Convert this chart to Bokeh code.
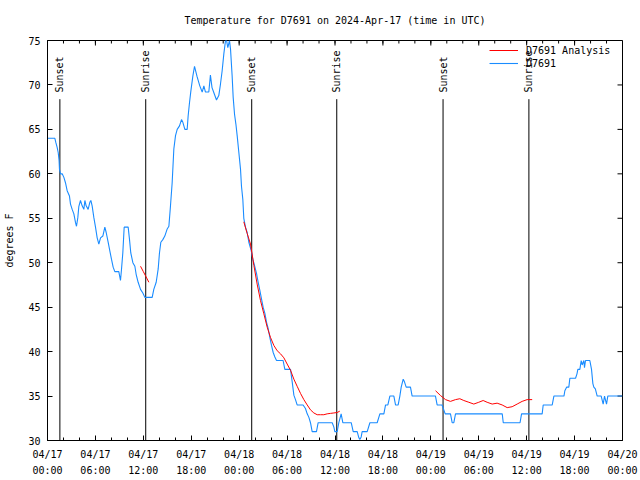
from math import pi, nan
from bokeh.plotting import figure
from bokeh.models import Range1d, FixedTicker, Legend, LegendItem
from bokeh.embed import file_html
from bokeh.resources import INLINE
from bokeh.core.properties import value

FONT = "DejaVu Sans Mono"

title_text = "Temperature for D7691 on 2024-Apr-17 (time in UTC)"
y_label = "degrees F"
x_tick_hours = [0, 6, 12, 18, 24, 30, 36, 42, 48, 54, 60, 66, 72]
x_tick_labels = ["04/17\n00:00", "04/17\n06:00", "04/17\n12:00", "04/17\n18:00",
                 "04/18\n00:00", "04/18\n06:00", "04/18\n12:00", "04/18\n18:00",
                 "04/19\n00:00", "04/19\n06:00", "04/19\n12:00", "04/19\n18:00",
                 "04/20\n00:00"]
x_minor_hours = list(range(0, 73, 2))
y_ticks = [30, 35, 40, 45, 50, 55, 60, 65, 70, 75]

# observed temperature, hours since 04/17 00:00 UTC
obs_hours = [0.0, 0.92, 1.05, 1.2, 1.34, 1.45, 1.5, 1.63, 1.84, 2.05,
             2.25, 2.46, 2.75, 2.88, 3.09, 3.3, 3.51, 3.63, 3.8, 3.92,
             4.13, 4.34, 4.55, 4.68, 4.84, 5.09, 5.3, 5.43, 5.59, 5.8,
             6.01, 6.22, 6.43, 6.64, 6.93, 7.18, 7.35, 7.6, 7.81, 8.01,
             8.22, 8.43, 8.93, 9.14, 9.27, 9.43, 9.6, 10.1, 10.27, 10.43,
             10.69, 10.94, 11.1, 11.35, 11.65, 11.94, 12.19, 13.11, 13.31, 13.61,
             13.86, 14.02, 14.19, 14.44, 14.69, 14.99, 15.2, 15.4, 15.61, 15.82,
             16.03, 16.24, 16.53, 16.78, 16.95, 17.2, 17.49, 17.61, 17.78, 17.95,
             18.2, 18.41, 18.74, 19.07, 19.37, 19.58, 19.78, 20.2, 20.4, 20.6,
             20.8, 21.16, 21.45, 21.66, 21.87, 22.08, 22.29, 22.42, 22.58, 22.79,
             22.92, 23.12, 23.25, 23.42, 23.59, 23.75, 23.96, 24.17, 24.29, 24.46,
             24.58, 24.79, 25.0, 25.21, 25.5, 25.71, 25.92, 26.17, 26.38, 26.59,
             26.8, 27.0, 27.22, 27.43, 27.63, 27.84, 28.05, 28.26, 28.47, 28.68,
             29.5, 29.72, 30.43, 30.64, 30.85, 31.05, 31.26, 32.0, 32.3, 32.52,
             32.73, 32.93, 33.14, 33.68, 33.89, 35.65, 35.86, 35.98, 36.27, 36.48,
             36.77, 36.98, 38.03, 38.28, 38.78, 38.99, 39.11, 39.28, 39.4, 40.03,
             40.37, 41.28, 41.62, 42.12, 42.33, 42.62, 42.87, 43.37, 43.58, 43.91,
             44.12, 44.29, 44.54, 44.7, 44.91, 45.45, 45.66, 48.58, 48.79, 49.4,
             49.8, 50.46, 50.67, 50.88, 51.09, 56.94, 57.07, 59.17, 59.36, 61.94,
             62.07, 63.2, 63.41, 64.67, 64.78, 65.0, 65.28, 65.41, 66.12, 66.3,
             66.41, 66.66, 66.83, 66.95, 67.16, 67.24, 67.37, 67.91, 68.12, 68.29,
             68.41, 68.6, 68.83, 69.33, 69.58, 69.75, 70.0, 70.16, 72.0]
obs_temp = [64.0, 64.0, 63.5, 63.0, 62.4, 61.5, 60.5, 60.0, 60.0, 59.6,
            59.0, 58.1, 57.5, 56.6, 56.0, 55.5, 54.5, 54.1, 55.1, 56.3,
            57.0, 56.4, 56.0, 57.0, 56.4, 56.0, 56.8, 57.0, 56.4, 55.1,
            54.0, 52.8, 52.1, 52.8, 53.0, 54.0, 53.4, 52.3, 51.3, 50.4,
            49.5, 49.0, 49.0, 48.0, 49.3, 51.1, 54.0, 54.0, 52.6, 51.1,
            50.0, 49.6, 48.7, 47.8, 47.0, 46.6, 46.1, 46.1, 47.0, 47.8,
            49.3, 51.1, 52.3, 52.6, 53.0, 53.8, 54.1, 56.4, 59.0, 62.8,
            64.3, 65.0, 65.4, 66.1, 65.8, 65.0, 65.0, 66.5, 68.0, 69.3,
            71.0, 72.1, 70.9, 69.9, 69.2, 69.9, 69.2, 69.2, 71.1, 69.7,
            69.2, 68.3, 68.8, 70.1, 71.6, 73.5, 75.0, 75.0, 74.2, 75.0,
            74.0, 71.0, 68.6, 66.7, 65.6, 64.3, 62.4, 60.5, 58.6, 57.1,
            55.0, 54.0, 53.4, 52.3, 51.4, 50.4, 49.7, 48.8, 47.8, 46.9,
            45.9, 45.0, 44.3, 43.3, 42.6, 41.6, 40.7, 39.9, 39.4, 39.0,
            39.0, 38.0, 38.0, 36.6, 35.1, 34.6, 34.0, 34.0, 33.6, 33.0,
            32.6, 32.0, 31.0, 31.0, 32.0, 32.0, 31.5, 31.0, 31.0, 32.0,
            33.0, 32.0, 32.0, 31.0, 31.0, 30.3, 30.1, 30.4, 31.0, 31.0,
            32.0, 32.0, 33.0, 33.0, 34.0, 34.0, 35.0, 35.0, 34.0, 34.0,
            35.0, 36.0, 36.9, 36.6, 36.0, 36.0, 35.0, 35.0, 34.0, 34.0,
            33.0, 33.0, 32.0, 32.0, 33.0, 33.0, 32.0, 32.0, 33.0, 33.0,
            34.0, 34.0, 35.0, 35.0, 35.6, 36.0, 36.0, 37.0, 37.0, 37.5,
            38.0, 38.0, 39.0, 38.5, 39.0, 38.2, 39.0, 39.0, 38.0, 36.4,
            36.0, 35.8, 35.0, 35.0, 34.1, 35.0, 34.1, 35.0, 35.0]

# analysis curve (three pieces, separated by gaps)
ana_hours = [11.65, 12.0, 12.35, 12.69, nan,
             24.58, 25.0, 25.42, 25.84, 26.25, 26.67, 27.09, 27.51, 27.92, 28.34,
             28.76, 29.18, 29.6, 30.01, 30.43, 30.85, 31.26, 31.68, 32.1, 32.52,
             32.93, 33.35, 33.77, 34.19, 34.6, 35.02, 35.44, 35.86, 36.27, 36.6, nan,
             48.59, 49.21, 49.84, 50.46, 51.09, 51.63, 52.13, 52.76, 53.38, 54.0,
             54.55, 55.05, 55.68, 56.3, 56.93, 57.56, 58.18, 58.81, 59.43, 60.06, 60.69]
ana_temp = [49.6, 49.0, 48.4, 47.8, nan,
            54.6, 53.3, 52.1, 49.7, 47.6, 45.75, 44.25, 42.75, 41.6, 40.7,
            40.1, 39.75, 39.3, 38.6, 37.9, 36.9, 36.1, 35.3, 34.6, 34.0,
            33.45, 33.1, 32.9, 32.9, 32.9, 33.0, 33.05, 33.1, 33.15, 33.3, nan,
            35.6, 35.06, 34.6, 34.4, 34.6, 34.7, 34.5, 34.3, 34.1, 34.3,
            34.5, 34.3, 34.1, 34.2, 34.0, 33.7, 33.8, 34.1, 34.4, 34.6, 34.6]

sun_hours = [1.55, 12.3, 25.57, 36.22, 49.53, 60.28]
sun_labels = ["Sunset", "Sunrise", "Sunset", "Sunrise", "Sunset", "Sunrise"]
sun_line_bottom = 30
sun_line_top = 68.4
sun_label_base = 69.15

X_MIN, X_MAX = 0, 72
Y_MIN, Y_MAX = 30, 75

BLUE = "#1a8cff"
RED = "#ff0000"

p = figure(frame_width=575, frame_height=400,
           x_range=Range1d(X_MIN, X_MAX), y_range=Range1d(Y_MIN, Y_MAX),
           output_backend="svg", toolbar_location=None,
           min_border_left=47, min_border_right=18,
           min_border_top=40, min_border_bottom=40,
           background_fill_color="white", border_fill_color="white",
           outline_line_color="black", outline_line_width=1)
p.grid.visible = False

p.title.text = title_text
p.title.align = "center"
p.title.vertical_align = "top"
p.title.text_font = FONT
p.title.text_font_size = "10px"
p.title.text_font_style = "normal"
p.title.text_color = "black"
p.title.standoff = 26

xa = p.xaxis[0]
xa.ticker = FixedTicker(ticks=x_tick_hours, minor_ticks=x_minor_hours)
xa.major_label_overrides = dict(zip(x_tick_hours, x_tick_labels))
ya = p.yaxis[0]
ya.ticker = FixedTicker(ticks=y_ticks, minor_ticks=[])
ya.axis_label = y_label

for ax in (xa, ya):
    ax.axis_line_color = "black"
    ax.major_tick_line_color = "black"
    ax.minor_tick_line_color = "black"
    ax.major_tick_in = 5
    ax.major_tick_out = 0
    ax.minor_tick_in = 3
    ax.minor_tick_out = 0
    ax.major_label_text_font = FONT
    ax.major_label_text_font_size = "10px"
    ax.major_label_text_color = "black"
    ax.axis_label_text_font = FONT
    ax.axis_label_text_font_size = "10px"
    ax.axis_label_text_font_style = "normal"
    ax.axis_label_text_color = "black"
xa.major_label_standoff = 8
xa.major_label_text_line_height = 1.5
ya.major_label_standoff = 7
ya.axis_label_standoff = 10

# mirrored inward ticks on the top and right borders
p.ray(x=x_tick_hours, y=[Y_MAX] * len(x_tick_hours), length=5, length_units="screen",
      angle=-pi / 2, line_color="black", line_width=1)
p.ray(x=x_minor_hours, y=[Y_MAX] * len(x_minor_hours), length=3, length_units="screen",
      angle=-pi / 2, line_color="black", line_width=1)
p.ray(x=[X_MAX] * len(y_ticks), y=y_ticks, length=5, length_units="screen",
      angle=pi, line_color="black", line_width=1)

p.segment(x0=sun_hours, y0=[sun_line_bottom] * len(sun_hours),
          x1=sun_hours, y1=[sun_line_top] * len(sun_hours),
          line_color="black", line_width=1)
p.text(x=sun_hours, y=[sun_label_base] * len(sun_hours), text=sun_labels,
       angle=pi / 2, text_align="left", text_baseline="middle",
       text_font=value(FONT), text_font_size="10px", text_color="black")

blue = p.line(obs_hours, obs_temp, line_color=BLUE, line_width=1.1)
red = p.line(ana_hours, ana_temp, line_color=RED, line_width=1)

legend = Legend(items=[LegendItem(label="D7691 Analysis", renderers=[red]),
                       LegendItem(label="D7691", renderers=[blue])],
                location="top_right", margin=4, padding=4, spacing=1,
                glyph_width=29, glyph_height=12, label_height=12,
                label_width=92, label_standoff=8,
                label_text_font=FONT, label_text_font_size="10px",
                label_text_color="black",
                border_line_color=None, background_fill_alpha=0)
p.add_layout(legend)

open("out.html", "w").write(file_html(p, INLINE))
